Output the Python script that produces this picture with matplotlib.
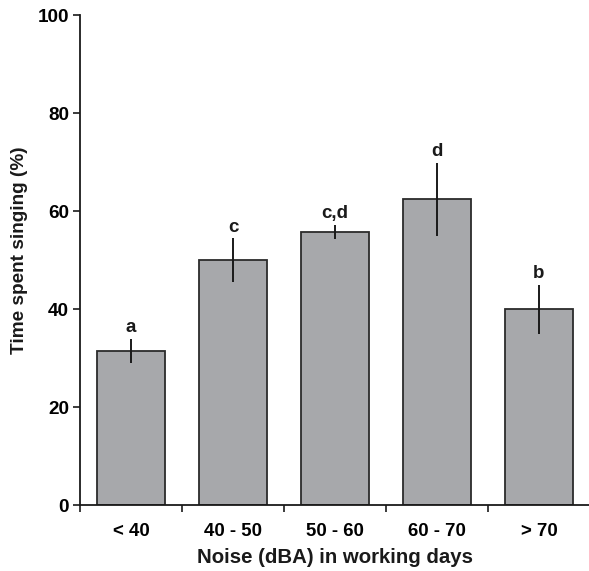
import numpy as np
import matplotlib
matplotlib.use("Agg")
import matplotlib.pyplot as plt

plt.rcParams['font.family'] = ['Liberation Sans', 'DejaVu Sans']
plt.rcParams['font.weight'] = 'bold'

categories = ["< 40", "40 - 50", "50 - 60", "60 - 70", "> 70"]
means = [31.4, 50.0, 55.7, 62.4, 40.0]
errors = [2.5, 4.4, 1.5, 7.4, 5.0]
letters = ["a", "c", "c,d", "d", "b"]

fig = plt.figure(figsize=(5.89, 5.71), dpi=100)
ax = fig.add_axes([80/589, 66/571, 510/589, 490/571])

x = np.arange(len(categories)) + 0.5
ax.bar(x, means, width=0.67, color="#a7a8ab", edgecolor="#2b2b2b", linewidth=1.3, zorder=2)
ax.errorbar(x, means, yerr=errors, fmt="none", ecolor="#1a1a1a", elinewidth=1.4, capsize=0, zorder=3)

for xi, m, e, lab in zip(x, means, errors, letters):
    ax.text(xi, m + e + 0.6, lab, ha="center", va="bottom", fontsize=13.5, fontweight="bold", color="#1a1a1a")

ax.set_xlim(0, 5)
ax.set_ylim(0, 100)
ax.set_yticks([0, 20, 40, 60, 80, 100])
ax.set_xticks([0, 1, 2, 3, 4])
ax.set_xticklabels([])
ax.set_xticks(x, minor=True)
ax.set_xticklabels(categories, minor=True)
ax.tick_params(axis="x", which="minor", length=0, pad=13, labelsize=13.4)
ax.tick_params(axis="x", which="major", length=5, width=1.2, direction="out", color="#1a1a1a")
ax.tick_params(axis="y", length=5, width=1.2, direction="out", labelsize=13.6, pad=3, color="#1a1a1a")

for s in ["top", "right"]:
    ax.spines[s].set_visible(False)
for s in ["left", "bottom"]:
    ax.spines[s].set_linewidth(1.3)
    ax.spines[s].set_color("#1a1a1a")

ax.set_ylabel("Time spent singing (%)", fontsize=13.7, fontweight="bold", color="#1a1a1a")
ax.yaxis.set_label_coords(-0.102, 0.52)
ax.set_xlabel("Noise (dBA) in working days", fontsize=14.7, fontweight="bold", labelpad=6, color="#1a1a1a")

fig.savefig("out.png", dpi=100)
